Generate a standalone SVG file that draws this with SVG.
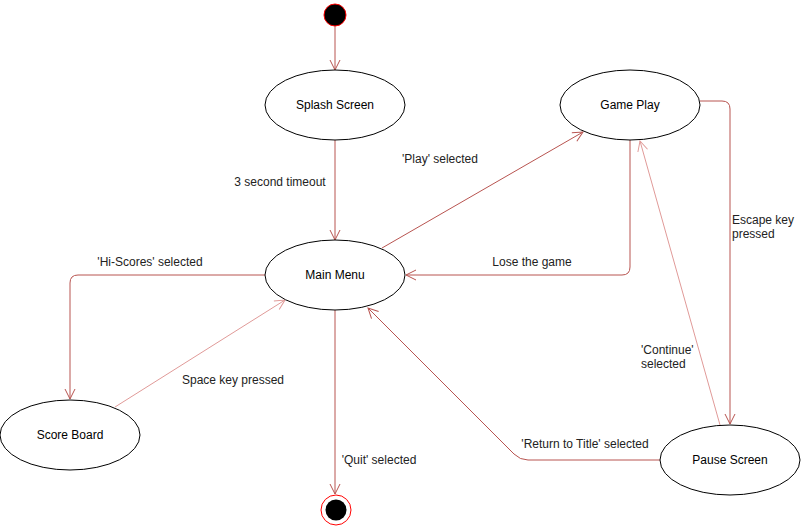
<svg xmlns="http://www.w3.org/2000/svg" width="811" height="526" viewBox="0 0 811 526">
<style>
.node ellipse{fill:#fff;stroke:#000;stroke-width:1}
.node text{font-family:"Liberation Sans",Arial,sans-serif;font-size:12px;fill:#000;text-anchor:middle;dominant-baseline:central}
.edge{fill:none;stroke:#b85450;stroke-width:1}
.edge.light{stroke:#e09a98}
.lbl{font-family:"Liberation Sans",Arial,sans-serif;font-size:12px;fill:#222;text-anchor:middle;dominant-baseline:central}
.lbl.left{text-anchor:start}
</style>
<defs>
<marker id="arr" viewBox="0 0 12 12" refX="11" refY="6" markerWidth="12" markerHeight="12" markerUnits="userSpaceOnUse" orient="auto">
<path d="M1,1 L11,6 L1,11" fill="none" stroke="#b85450" stroke-width="1"/>
</marker>
<marker id="arrL" viewBox="0 0 12 12" refX="11" refY="6" markerWidth="12" markerHeight="12" markerUnits="userSpaceOnUse" orient="auto">
<path d="M1,1 L11,6 L1,11" fill="none" stroke="#e09a98" stroke-width="1"/>
</marker>
</defs>
<rect width="811" height="526" fill="#fff"/>
<g id="connectors">
<path class="edge" d="M335,26 L335,70" marker-end="url(#arr)"/>
<path class="edge" d="M335,140 L335,240" marker-end="url(#arr)"/>
<path class="edge" d="M382,248 L583,132" marker-end="url(#arr)"/>
<path class="edge" d="M630,140 L630,267 Q630,275 622,275 L406,275" marker-end="url(#arr)"/>
<path class="edge" d="M700,101 L722,101 Q730,101 730,109 L730,424" marker-end="url(#arr)"/>
<path class="edge light" d="M720,425 L640,141" marker-end="url(#arrL)"/>
<path class="edge" d="M660,460 L528,460 Q520,460 514,454 L368,308" marker-end="url(#arr)"/>
<path class="edge" d="M265,275 L78,275 Q70,275 70,283 L70,399" marker-end="url(#arr)"/>
<path class="edge light" d="M115,407 L285,300" marker-end="url(#arrL)"/>
<path class="edge" d="M335,310 L335,494" marker-end="url(#arr)"/>
</g>
<g id="labels">
<text class="lbl" x="280" y="182">3 second timeout</text>
<text class="lbl" x="440" y="159">'Play' selected</text>
<text class="lbl" x="532" y="262">Lose the game</text>
<text class="lbl" x="150" y="262">'Hi-Scores' selected</text>
<text class="lbl" x="233" y="380">Space key pressed</text>
<text class="lbl" x="585" y="444">'Return to Title' selected</text>
<text class="lbl" x="379" y="460">'Quit' selected</text>
<text class="lbl left" x="732" y="220">Escape key</text>
<text class="lbl left" x="732" y="234">pressed</text>
<text class="lbl left" x="641" y="350">'Continue'</text>
<text class="lbl left" x="641" y="364">selected</text>
</g>
<g id="start"><circle cx="335" cy="15" r="11" fill="#000" stroke="#ff0000" stroke-width="1"/></g>
<g id="splash" class="node"><ellipse cx="335" cy="105" rx="70" ry="35"/><text x="335" y="105">Splash Screen</text></g>
<g id="mainmenu" class="node"><ellipse cx="335" cy="275" rx="70" ry="35"/><text x="335" y="275">Main Menu</text></g>
<g id="gameplay" class="node"><ellipse cx="630" cy="105" rx="70" ry="35"/><text x="630" y="105">Game Play</text></g>
<g id="scoreboard" class="node"><ellipse cx="70" cy="435" rx="70" ry="35"/><text x="70" y="435">Score Board</text></g>
<g id="pause" class="node"><ellipse cx="730" cy="460" rx="70" ry="35"/><text x="730" y="460">Pause Screen</text></g>
<g id="end"><circle cx="336" cy="510" r="15" fill="#fff" stroke="#ff0000" stroke-width="1"/><circle cx="336" cy="510" r="10.5" fill="#000"/></g>
</svg>
